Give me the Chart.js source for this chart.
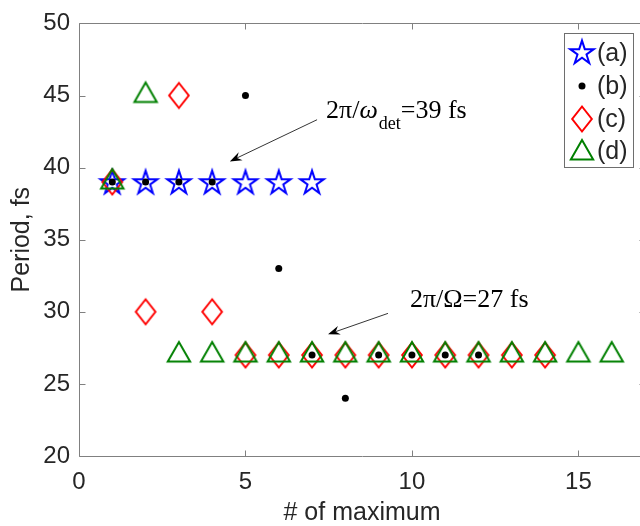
<!DOCTYPE html>
<html><head><meta charset="utf-8">
<script src="https://cdn.jsdelivr.net/npm/chart.js@4"></script>
<style>
html,body{margin:0;padding:0;overflow:hidden;background:#fff;width:640px;height:526px}
#wrap{width:660px;height:526px;position:relative}
</style></head>
<body><div id="wrap"><canvas id="c" width="660" height="526"></canvas></div>
<script>
// ---- data ----
const xA = [1, 2, 3, 4, 5, 6, 7];
const yA = [39, 39, 39, 39, 39, 39, 39];
const xB = [1, 2, 3, 4, 5, 6, 7, 8, 9, 10, 11, 12];
const yB = [39, 39, 39, 39, 45, 33, 27, 24, 27, 27, 27, 27];
const xC = [1, 2, 3, 4, 5, 6, 7, 8, 9, 10, 11, 12, 13, 14];
const yC = [39, 30, 45, 30, 27, 27, 27, 27, 27, 27, 27, 27, 27, 27];
const xD = [1, 2, 3, 4, 5, 6, 7, 8, 9, 10, 11, 12, 13, 14, 15, 16];
const yD = [39, 45, 27, 27, 27, 27, 27, 27, 27, 27, 27, 27, 27, 27, 27, 27];
const seriesNames = ['(a)', '(b)', '(c)', '(d)'];
const xTicks = [0, 5, 10, 15];
const yTicks = [20, 25, 30, 35, 40, 45, 50];
const xTitle = '# of maximum';
const yTitle = 'Period, fs';
// annotations (data coordinates)
const ann1 = {text: ['2π/', 'ω', 'det', '=39 fs'], tx: 7.42, ty: 43.46, from: [7.15, 43.32], to: [4.53, 40.43]};
const ann2 = {text: ['2π/Ω=27 fs'], tx: 9.94, ty: 30.30, from: [9.28, 29.89], to: [7.48, 28.44]};

const pts = (xs, ys) => xs.map((x, i) => ({x: x, y: ys[i]}));

// ---- marker images ----
function mk(size, draw) {
  const c = document.createElement('canvas');
  c.width = size; c.height = size;
  const g = c.getContext('2d');
  draw(g, size / 2);
  return c;
}
const BLUE = '#0000ff', RED = '#ff0000', GREEN = '#008000';
const starImg = mk(32, (g, c) => {
  const R = 12.4, r = R * 0.382;
  g.strokeStyle = BLUE; g.lineWidth = 2; g.lineJoin = 'miter';
  g.beginPath();
  for (let i = 0; i < 10; i++) {
    const a = -Math.PI / 2 + i * Math.PI / 5;
    const rr = i % 2 ? r : R;
    const px = c + rr * Math.cos(a), py = c + 1 + rr * Math.sin(a);
    i ? g.lineTo(px, py) : g.moveTo(px, py);
  }
  g.closePath(); g.stroke();
});
const diamondImg = mk(32, (g, c) => {
  g.strokeStyle = RED; g.lineWidth = 2;
  g.beginPath();
  g.moveTo(c, c - 12.5); g.lineTo(c + 9.8, c); g.lineTo(c, c + 12.5); g.lineTo(c - 9.8, c);
  g.closePath(); g.stroke();
});
const triImg = mk(34, (g, c) => {
  const R = 12.9;
  g.strokeStyle = GREEN; g.lineWidth = 2;
  g.beginPath();
  for (let i = 0; i < 3; i++) {
    const a = -Math.PI / 2 + i * 2 * Math.PI / 3;
    const px = c + R * Math.cos(a), py = c + R * Math.sin(a);
    i ? g.lineTo(px, py) : g.moveTo(px, py);
  }
  g.closePath(); g.stroke();
});

const TXT = '#262626', AX = '#808080';

const axesPlugin = {
  id: 'axesBox',
  beforeDatasetsDraw(chart) {
    const {ctx, chartArea: a, scales: {x, y}} = chart;
    ctx.save();
    ctx.strokeStyle = AX; ctx.lineWidth = 1;
    const L = Math.round(a.left) + 0.5, R = Math.round(a.right) + 0.5;
    const T = Math.round(a.top) + 0.5, B = Math.round(a.bottom) + 0.5;
    ctx.beginPath();
    ctx.moveTo(L, T); ctx.lineTo(R, T); ctx.lineTo(R, B); ctx.lineTo(L, B); ctx.closePath();
    const tl = 6;
    xTicks.forEach(v => {
      const px = Math.round(x.getPixelForValue(v)) + 0.5;
      ctx.moveTo(px, B); ctx.lineTo(px, B - tl);
      ctx.moveTo(px, T); ctx.lineTo(px, T + tl);
    });
    yTicks.forEach(v => {
      const py = Math.round(y.getPixelForValue(v)) + 0.5;
      ctx.moveTo(L, py); ctx.lineTo(L + tl, py);
      ctx.moveTo(R, py); ctx.lineTo(R - tl, py);
    });
    ctx.stroke();
    ctx.restore();
  },
  afterDatasetsDraw(chart) {
    const {ctx, scales: {x, y}} = chart;
    ctx.save();
    // legend
    const lx = 564.5, ly = 33.5, lw = 69, lh = 134;
    ctx.fillStyle = '#fff'; ctx.fillRect(lx, ly, lw, lh);
    ctx.strokeStyle = '#6e6e6e'; ctx.lineWidth = 1; ctx.strokeRect(lx, ly, lw, lh);
    const rows = [53, 86, 119, 151];
    const mx = 582;
    ctx.drawImage(starImg, mx - 16, rows[0] - 17);
    ctx.fillStyle = '#000'; ctx.beginPath(); ctx.arc(mx, rows[1], 3.5, 0, Math.PI * 2); ctx.fill();
    ctx.drawImage(diamondImg, mx - 16, rows[2] - 16);
    ctx.drawImage(triImg, mx - 17, rows[3] - 17 + 2);
    ctx.fillStyle = TXT; ctx.font = '25px "Liberation Sans", Arial, sans-serif';
    ctx.textBaseline = 'middle'; ctx.textAlign = 'left';
    seriesNames.forEach((n, i) => ctx.fillText(n, 597, rows[i] + 1));
    // annotations
    const arrow = (f, t) => {
      const x1 = x.getPixelForValue(f[0]), y1 = y.getPixelForValue(f[1]);
      const x2 = x.getPixelForValue(t[0]), y2 = y.getPixelForValue(t[1]);
      const ang = Math.atan2(y2 - y1, x2 - x1);
      const hl = 12, hw = 4.5, back = 8;
      ctx.strokeStyle = '#000'; ctx.lineWidth = 0.8;
      ctx.beginPath(); ctx.moveTo(x1, y1);
      ctx.lineTo(x2 - back * Math.cos(ang), y2 - back * Math.sin(ang)); ctx.stroke();
      const cs = Math.cos(ang), sn = Math.sin(ang);
      const P = (u, v) => [x2 + u * cs - v * sn, y2 + u * sn + v * cs];
      ctx.fillStyle = '#000';
      ctx.beginPath();
      let p = P(0, 0); ctx.moveTo(p[0], p[1]);
      p = P(-hl, hw); ctx.lineTo(p[0], p[1]);
      p = P(-back, 0); ctx.lineTo(p[0], p[1]);
      p = P(-hl, -hw); ctx.lineTo(p[0], p[1]);
      ctx.closePath(); ctx.fill();
    };
    arrow(ann1.from, ann1.to);
    arrow(ann2.from, ann2.to);
    ctx.fillStyle = '#000'; ctx.textBaseline = 'alphabetic'; ctx.textAlign = 'left';
    const serif = '"Liberation Serif", "Times New Roman", serif';
    // annotation 1 with italic omega and subscript
    let px = x.getPixelForValue(ann1.tx), py = y.getPixelForValue(ann1.ty);
    ctx.font = '26px ' + serif; ctx.fillText(ann1.text[0], px, py); px += ctx.measureText(ann1.text[0]).width;
    ctx.font = 'italic 26px ' + serif; ctx.fillText(ann1.text[1], px, py); px += ctx.measureText(ann1.text[1]).width;
    ctx.font = '18px ' + serif; ctx.fillText(ann1.text[2], px + 1, py + 11); px += ctx.measureText(ann1.text[2]).width + 1;
    ctx.font = '26px ' + serif; ctx.fillText(ann1.text[3], px, py);
    ctx.fillText(ann2.text[0], x.getPixelForValue(ann2.tx), y.getPixelForValue(ann2.ty));
    ctx.restore();
  }
};

const font24 = {family: '"Liberation Sans", Arial, sans-serif', size: 24};
const font25 = {family: '"Liberation Sans", Arial, sans-serif', size: 25, lineHeight: 1};

new Chart(document.getElementById('c'), {
  type: 'scatter',
  data: {
    datasets: [
      {label: seriesNames[0], data: pts(xA, yA), pointStyle: starImg, pointRadius: 12, order: 4},
      {label: seriesNames[1], data: pts(xB, yB), pointStyle: 'circle', pointRadius: 3.5, pointBorderWidth: 0, backgroundColor: '#000', borderColor: '#000', order: 1},
      {label: seriesNames[2], data: pts(xC, yC), pointStyle: diamondImg, pointRadius: 12, order: 3},
      {label: seriesNames[3], data: pts(xD, yD), pointStyle: triImg, pointRadius: 12, order: 2}
    ]
  },
  options: {
    responsive: false,
    animation: false,
    devicePixelRatio: 1,
    layout: {padding: {left: 0, right: 15, top: 20, bottom: 0}},
    plugins: {legend: {display: false}, tooltip: {enabled: false}},
    elements: {point: {hoverRadius: 12}},
    scales: {
      x: {
        type: 'linear', min: 0, max: 17,
        grid: {display: false, drawTicks: false}, border: {display: false},
        afterBuildTicks: s => { s.ticks = xTicks.map(v => ({value: v})); },
        afterFit: s => { s.height = 70; },
        ticks: {font: font24, color: TXT, padding: 12, maxRotation: 0, autoSkip: false},
        title: {display: true, text: xTitle, font: font25, color: TXT, padding: {top: 0, bottom: 0}}
      },
      y: {
        type: 'linear', min: 20, max: 50,
        grid: {display: false, drawTicks: false}, border: {display: false},
        afterBuildTicks: s => { s.ticks = yTicks.map(v => ({value: v})); },
        afterFit: s => { s.width = 79; },
        ticks: {font: font24, color: TXT, padding: 9, autoSkip: false},
        title: {display: true, text: yTitle, font: font25, color: TXT, padding: {top: 10, bottom: 0}}
      }
    }
  },
  plugins: [axesPlugin]
});
</script>
</body></html>
